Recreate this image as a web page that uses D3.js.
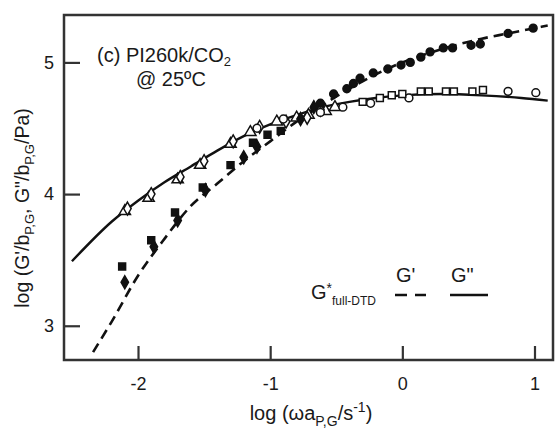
<!DOCTYPE html>
<html>
<head>
<meta charset="utf-8">
<script src="https://cdn.jsdelivr.net/npm/d3@7"></script>
<style>
  body { margin: 0; background: #fff; }
  text { font-family: "Liberation Sans", Arial, sans-serif; fill: #1a1a1a; }
</style>
</head>
<body>
<div id="chart"></div>
<script>

// model curves (full-DTD)
const modelX1 = [-2.34, -2.2, -2.0, -1.8, -1.6, -1.4, -1.2, -1.0, -0.8, -0.6, -0.4, -0.2, 0.0, 0.2, 0.4, 0.6, 0.8, 1.0, 1.1];
const modelG1 = [2.80, 3.03, 3.38, 3.66, 3.91, 4.08, 4.25, 4.40, 4.55, 4.68, 4.80, 4.91, 5.00, 5.07, 5.13, 5.18, 5.22, 5.26, 5.28];
const modelX2 = [-2.5, -2.2, -2.0, -1.8, -1.6, -1.4, -1.2, -1.0, -0.8, -0.6, -0.4, -0.2, 0.0, 0.3, 0.6, 0.9, 1.1];
const modelG2 = [3.49, 3.79, 3.95, 4.09, 4.21, 4.33, 4.44, 4.53, 4.60, 4.66, 4.70, 4.73, 4.75, 4.76, 4.75, 4.73, 4.71];

// G'' data (open symbols)
const openCircleX = [-1.10, -0.90, -0.62, -0.45, -0.24, 0.05, 0.80, 1.01];
const openCircleY = [4.50, 4.57, 4.62, 4.66, 4.69, 4.73, 4.78, 4.77];
const openSquareX = [-0.30, -0.17, -0.08, 0.00, 0.14, 0.20, 0.33, 0.39, 0.53, 0.61];
const openSquareY = [4.70, 4.73, 4.75, 4.76, 4.78, 4.78, 4.78, 4.78, 4.78, 4.79];
const openTriX = [-2.10, -1.92, -1.70, -1.53, -1.30, -1.15, -0.95, -0.80, -0.71, -0.58, -0.51];
const openTriY = [3.87, 3.97, 4.11, 4.22, 4.38, 4.47, 4.55, 4.58, 4.60, 4.63, 4.66];
const openDiaX = [-2.08, -1.90, -1.68, -1.50, -1.28, -1.08, -0.88, -0.72, -0.62];
const openDiaY = [3.89, 4.00, 4.13, 4.25, 4.40, 4.51, 4.55, 4.58, 4.64];

// G' data (filled symbols)
const fillSquareX = [-2.12, -1.90, -1.72, -1.51, -1.30, -1.13, -1.02, -0.92];
const fillSquareY = [3.45, 3.65, 3.86, 4.05, 4.22, 4.39, 4.45, 4.48];
const fillDiaX = [-2.10, -1.88, -1.70, -1.49, -1.20, -1.10, -0.77, -0.67];
const fillDiaY = [3.33, 3.60, 3.80, 4.03, 4.28, 4.36, 4.57, 4.66];
const fillCircleX = [-0.62, -0.52, -0.42, -0.37, -0.32, -0.22, -0.11, -0.01, 0.06];
const fillCircleY = [4.69, 4.76, 4.80, 4.84, 4.88, 4.92, 4.95, 4.98, 5.00];
const fillCircle2X = [0.14, 0.21, 0.31, 0.38, 0.52, 0.59, 0.80, 0.99];
const fillCircle2Y = [5.04, 5.08, 5.11, 5.11, 5.13, 5.14, 5.22, 5.26];

const xTicks = [-2, -1, 0, 1];
const yTicks = [3, 4, 5];

const W = 555, H = 430;
const margin = { top: 15, right: 2, bottom: 70, left: 64 },
    width = W - margin.left - margin.right,
    height = H - margin.top - margin.bottom;

const svg = d3.select("#chart").append("svg")
    .attr("width", W)
    .attr("height", H);

const g = svg.append("g")
    .attr("transform", `translate(${margin.left},${margin.top})`);

const xScale = d3.scaleLinear().domain([-2.56, 1.14]).range([0, width]);
const yScale = d3.scaleLinear().domain([2.74, 5.36]).range([height, 0]);

// axes, ticks pointing inward
const xAxis = g.append("g")
    .attr("transform", `translate(0,${height})`)
    .call(d3.axisBottom(xScale).tickValues(xTicks).tickSize(-14).tickPadding(17)
        .tickFormat(d => String(d)));
const yAxis = g.append("g")
    .call(d3.axisLeft(yScale).tickValues(yTicks).tickSize(-16).tickPadding(10)
        .tickFormat(d => String(d)));

[xAxis, yAxis].forEach(a => {
    a.select(".domain").remove();
    a.selectAll(".tick line").attr("stroke", "#333").attr("stroke-width", 2.2);
    a.selectAll(".tick text").attr("font-size", 18).attr("fill", "#1a1a1a")
        .attr("font-family", "Liberation Sans, Arial, sans-serif");
});

// frame
g.append("rect")
    .attr("x", 0).attr("y", 0)
    .attr("width", width).attr("height", height)
    .attr("fill", "none")
    .attr("stroke", "#333")
    .attr("stroke-width", 2.5);

// model lines
const line = d3.line()
    .x(d => xScale(d[0]))
    .y(d => yScale(d[1]))
    .curve(d3.curveMonotoneX);

g.append("path")
    .datum(d3.zip(modelX2, modelG2))
    .attr("d", line)
    .attr("fill", "none")
    .attr("stroke", "#111")
    .attr("stroke-width", 2.4);

g.append("path")
    .datum(d3.zip(modelX1, modelG1))
    .attr("d", line)
    .attr("fill", "none")
    .attr("stroke", "#111")
    .attr("stroke-width", 2.6)
    .attr("stroke-dasharray", "10,6");

// data markers
function drawSet(xs, ys, type, filled) {
    const sym = d3.symbol().type(type).size(type === d3.symbolTriangle ? 55 : 48);
    g.append("g").selectAll("path")
        .data(d3.zip(xs, ys))
        .enter().append("path")
        .attr("transform", d => `translate(${xScale(d[0])},${yScale(d[1])})`)
        .attr("d", sym)
        .attr("fill", filled ? "#111" : "#fff")
        .attr("stroke", "#111")
        .attr("stroke-width", 1.5);
}

drawSet(openTriX, openTriY, d3.symbolTriangle, false);
drawSet(openDiaX, openDiaY, d3.symbolDiamond, false);
drawSet(openCircleX, openCircleY, d3.symbolCircle, false);
drawSet(openSquareX, openSquareY, d3.symbolSquare, false);
drawSet(fillSquareX, fillSquareY, d3.symbolSquare, true);
drawSet(fillDiaX, fillDiaY, d3.symbolDiamond, true);
drawSet(fillCircleX, fillCircleY, d3.symbolCircle, true);
drawSet(fillCircle2X, fillCircle2Y, d3.symbolCircle, true);

// annotation
const ann = svg.append("text").attr("x", 97).attr("y", 62).attr("font-size", 20);
ann.append("tspan").text("(c)  PI260k/CO");
ann.append("tspan").attr("font-size", 13).attr("dy", 4).text("2");
svg.append("text").attr("x", 136).attr("y", 86).attr("font-size", 20).text("@ 25ºC");

// legend
svg.append("text").attr("x", 396).attr("y", 282).attr("font-size", 20).text("G'");
svg.append("text").attr("x", 451).attr("y", 282).attr("font-size", 20).text("G\"");
const lg = svg.append("text").attr("x", 311).attr("y", 299).attr("font-size", 20);
lg.append("tspan").text("G");
lg.append("tspan").attr("font-size", 14).attr("dy", -6).text("*");
lg.append("tspan").attr("font-size", 12).attr("dy", 12).text("full-DTD");
svg.append("line").attr("x1", 395).attr("x2", 426).attr("y1", 295).attr("y2", 295)
    .attr("stroke", "#111").attr("stroke-width", 2.6).attr("stroke-dasharray", "12,8");
svg.append("line").attr("x1", 450).attr("x2", 488).attr("y1", 295).attr("y2", 295)
    .attr("stroke", "#111").attr("stroke-width", 2.6);

// axis titles
const xl = svg.append("text").attr("x", 311).attr("y", 420)
    .attr("text-anchor", "middle").attr("font-size", 20);
xl.append("tspan").text("log (ωa");
xl.append("tspan").attr("font-size", 14).attr("dy", 6).text("P,G");
xl.append("tspan").attr("dy", -6).text("/s");
xl.append("tspan").attr("font-size", 14).attr("dy", -8).text("-1");
xl.append("tspan").attr("dy", 8).text(")");

const yl = svg.append("text")
    .attr("transform", "translate(29,208) rotate(-90)")
    .attr("text-anchor", "middle").attr("font-size", 19.5);
yl.append("tspan").text("log (G'/b");
yl.append("tspan").attr("font-size", 13).attr("dy", 5).text("P,G");
yl.append("tspan").attr("dy", -5).text(", G\"/b");
yl.append("tspan").attr("font-size", 13).attr("dy", 5).text("P,G");
yl.append("tspan").attr("dy", -5).text("/Pa)");
</script>
</body>
</html>
